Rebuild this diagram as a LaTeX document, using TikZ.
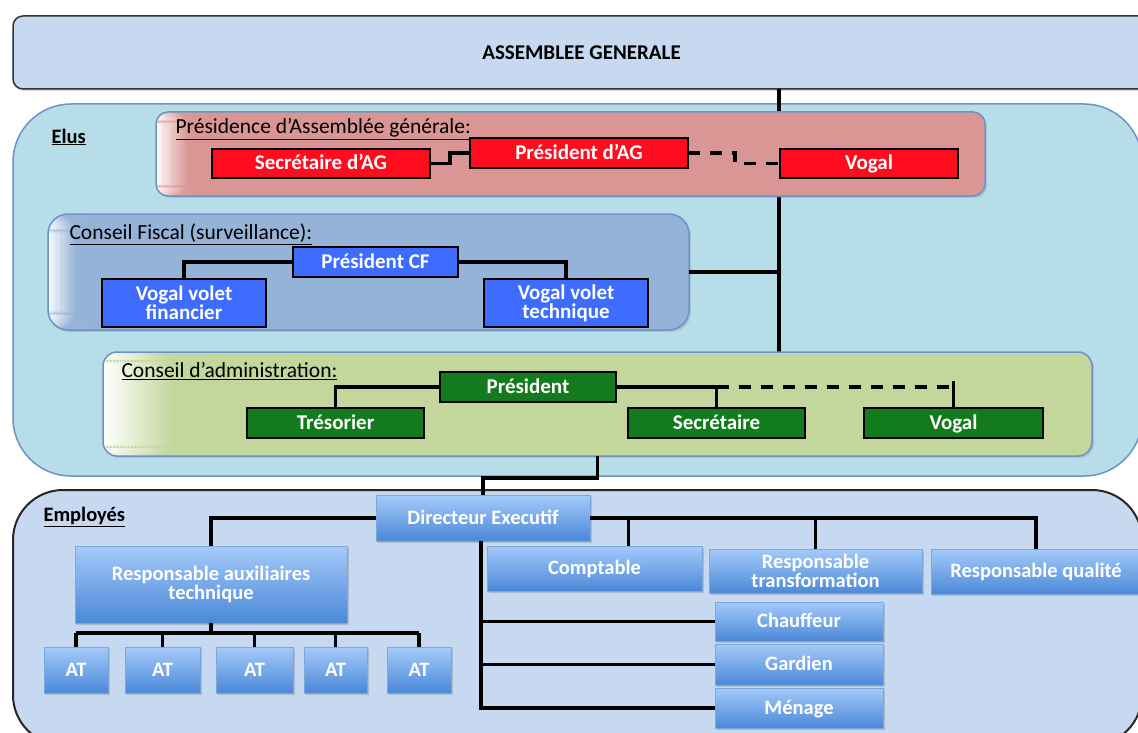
\documentclass[tikz,border=0pt]{standalone}
\usepackage{fontspec}
\setmainfont{Carlito}
\usetikzlibrary{shadows}

\definecolor{agfill}{HTML}{C6D9F0}
\definecolor{elusfill}{HTML}{B7DDE8}
\definecolor{presfill}{HTML}{D99694}
\definecolor{cffill}{HTML}{95B3D7}
\definecolor{cafill}{HTML}{C3D69B}
\definecolor{panelline}{HTML}{6A94C8}
\definecolor{redfill}{HTML}{FF0D1E}
\definecolor{bluefill}{HTML}{3D6CFF}
\definecolor{greenfill}{HTML}{137A1D}
\definecolor{gradtop}{HTML}{A4CAFA}
\definecolor{gradbot}{HTML}{4B88D8}
\definecolor{gradline}{HTML}{7FA8DA}

\tikzset{
  panel/.style={draw=panelline, line width=1.5pt, inner sep=0pt, outer sep=0pt},
  fade/.style 2 args={path picture={
      \foreach \k in {0,...,49} {
        \pgfmathtruncatemacro\pc{2*\k}
        \fill[#1!\pc!white] ([xshift=\k*#2/50]path picture bounding box.south west)
          rectangle ([xshift=(\k+1.5)*#2/50]path picture bounding box.north west);
      }}},
  box/.style={draw=black, line width=1.5pt, inner sep=1pt, outer sep=0pt,
      text=white, font=\fontsize{21}{19}\selectfont\bfseries, align=center},
  oneline/.style={text height=14pt, text depth=1.5pt},
  redbox/.style={box, fill=redfill},
  bluebox/.style={box, fill=bluefill},
  greenbox/.style={box, oneline, fill=greenfill},
  empbox/.style={draw=gradline, line width=1pt, top color=gradtop, bottom color=gradbot,
      inner sep=1pt, outer sep=0pt, text=white, align=center,
      font=\fontsize{20.5}{19.5}\selectfont\bfseries,
      drop shadow={opacity=0.35, shadow xshift=2pt, shadow yshift=-2pt}},
  title/.style={anchor=west, font=\fontsize{21.5}{23}\selectfont},
  link/.style={draw=black, line width=3.2pt},
  dashlink/.style={link, dash pattern=on 12pt off 10pt}
}

\begin{document}
\begin{tikzpicture}[x=1pt, y=-1pt]
\useasboundingbox[fill=white] (0,0) rectangle (1138,733);

% assemblee generale
\node[draw=black!80, line width=1.5pt, fill=agfill, rounded corners=10, minimum width=1137, minimum height=73,
  inner sep=0pt, outer sep=0pt, font=\fontsize{21}{23}\selectfont\bfseries,
  drop shadow={opacity=0.3, shadow xshift=2pt, shadow yshift=-2pt}] (ag) at (581.5,52.5) {ASSEMBLEE GENERALE};

% elus
\node[panel, fill=elusfill, rounded corners=58, minimum width=1129, minimum height=372] (elus) at (577.5,290) {};
\node[anchor=west, font=\fontsize{20.5}{22}\selectfont\bfseries] (elustxt) at (48,137) {\underline{Elus}};

\coordinate (trunk) at (779,89);
\draw[link] (trunk) -- (779,352);

% presidence AG
\node[panel, fill=presfill, fade={presfill}{32}, rounded corners=12, minimum width=829, minimum height=84,
  drop shadow={opacity=0.25, shadow xshift=2pt, shadow yshift=-2pt}] (pag) at (570.5,154) {};
\node[title] (pagtxt) at (172,129) {\underline{Présidence d’Assemblée générale:}};
\node[redbox, oneline, minimum width=218, minimum height=29] (secag) at (321,163.5) {Secrétaire d’AG};
\node[redbox, oneline, minimum width=218, minimum height=30] (presag) at (579,153) {Président d’AG};
\node[redbox, oneline, minimum width=178, minimum height=29] (vogag) at (869,163.5) {Vogal};
\draw[link] (secag.east) -- ++(20,0) |- (presag.west);
\draw[dashlink] (presag.east) -- ++(47,0) |- (vogag.west);

% conseil fiscal
\node[panel, fill=cffill, fade={cffill}{28}, rounded corners=20, minimum width=641, minimum height=116,
  drop shadow={opacity=0.25, shadow xshift=2pt, shadow yshift=-2pt}] (cf) at (368.5,272) {};
\node[title] (cftxt) at (66,234) {\underline{Conseil Fiscal (surveillance):}};
\node[bluebox, oneline, minimum width=165, minimum height=30] (pcf) at (375.5,262) {Président CF};
\node[bluebox, minimum width=164, minimum height=48] (vfin) at (184,303) {Vogal volet\\financier};
\node[bluebox, minimum width=164, minimum height=48] (vtech) at (566,303) {Vogal volet\\technique};
\draw[link] (pcf.west) -| (vfin.north);
\draw[link] (pcf.east) -| (vtech.north);
\draw[link] (cf.east) -- (cf.east -| trunk);

% conseil d'administration
\node[panel, fill=cafill, fade={cafill}{70}, rounded corners=14, minimum width=989, minimum height=104,
  drop shadow={opacity=0.25, shadow xshift=2pt, shadow yshift=-2pt}] (ca) at (597.5,404) {};
\node[title] (catxt) at (118,371) {\underline{Conseil d’administration:}};
\node[greenbox, minimum width=176, minimum height=30] (pca) at (528,387) {Président};
\node[greenbox, minimum width=177, minimum height=30] (tres) at (335.5,423) {Trésorier};
\node[greenbox, minimum width=177, minimum height=30] (secr) at (716.5,423) {Secrétaire};
\node[greenbox, minimum width=179, minimum height=30] (vogca) at (953.5,423) {Vogal};
\draw[link] (pca.west) -| (tres.north);
\draw[link] (pca.east) -| (secr.north);
\draw[dashlink] (secr.north |- pca.east) -- (vogca.north |- pca.east);
\draw[link] ([yshift=6]vogca.north |- pca.east) -- (vogca.north);

% employes
\node[draw=black!85, line width=2pt, fill=agfill, rounded corners=50, minimum width=1129, minimum height=255,
  inner sep=0pt, outer sep=0pt] (emp) at (577.5,617.5) {};
\node[anchor=west, font=\fontsize{20.5}{22}\selectfont\bfseries] (emptxt) at (40,517) {\underline{Employés}};

\node[empbox, oneline, minimum width=214, minimum height=46] (dir) at (483,518) {Directeur Executif};
\draw[link] (ca.south) -- ++(0,22) -| (dir.north);

\node[empbox, minimum width=272, minimum height=77] (rat) at (211,584.5) {Responsable auxiliaires\\technique};
\node[empbox, oneline, minimum width=215, minimum height=45] (compt) at (594.5,568.5) {Comptable};
\node[empbox, minimum width=213, minimum height=44] (rtr) at (815.5,571) {Responsable\\transformation};
\node[empbox, oneline, minimum width=210, minimum height=45] (rq) at (1036,571.5) {Responsable qualité};
\node[empbox, oneline, minimum width=168, minimum height=39] (chf) at (799,621.5) {Chauffeur};
\node[empbox, oneline, minimum width=168, minimum height=41] (gard) at (799,664.5) {Gardien};
\node[empbox, oneline, minimum width=168, minimum height=40] (men) at (799,708) {Ménage};

\draw[link] (dir.west) -| (rat.north);
\draw[link] (dir.east) -| (rq.north);
\draw[link] ([xshift=34]compt.north |- dir.east) -- ([xshift=34]compt.north);
\draw[link] (rtr.north |- dir.east) -- (rtr.north);
\draw[link] ([xshift=-2]dir.south) |- (men.west);
\draw[link] ([xshift=-2]dir.south |- chf.west) -- (chf.west);
\draw[link] ([xshift=-2]dir.south |- gard.west) -- (gard.west);

% AT
\foreach \i/\x/\w in {1/76/64, 2/162.5/75, 3/254.5/77, 4/335.5/63, 5/419/64}
  \node[empbox, oneline, minimum width=\w, minimum height=46] (at\i) at (\x,670) {AT};
\coordinate (atbar) at (0,633);
\draw[link] (rat.south) -- (rat.south |- atbar);
\draw[link] (at1.north |- atbar) -- (at5.north |- atbar);
\foreach \i in {1,...,5}
  \draw[link] (at\i.north |- atbar) -- (at\i.north);
\end{tikzpicture}
\end{document}
